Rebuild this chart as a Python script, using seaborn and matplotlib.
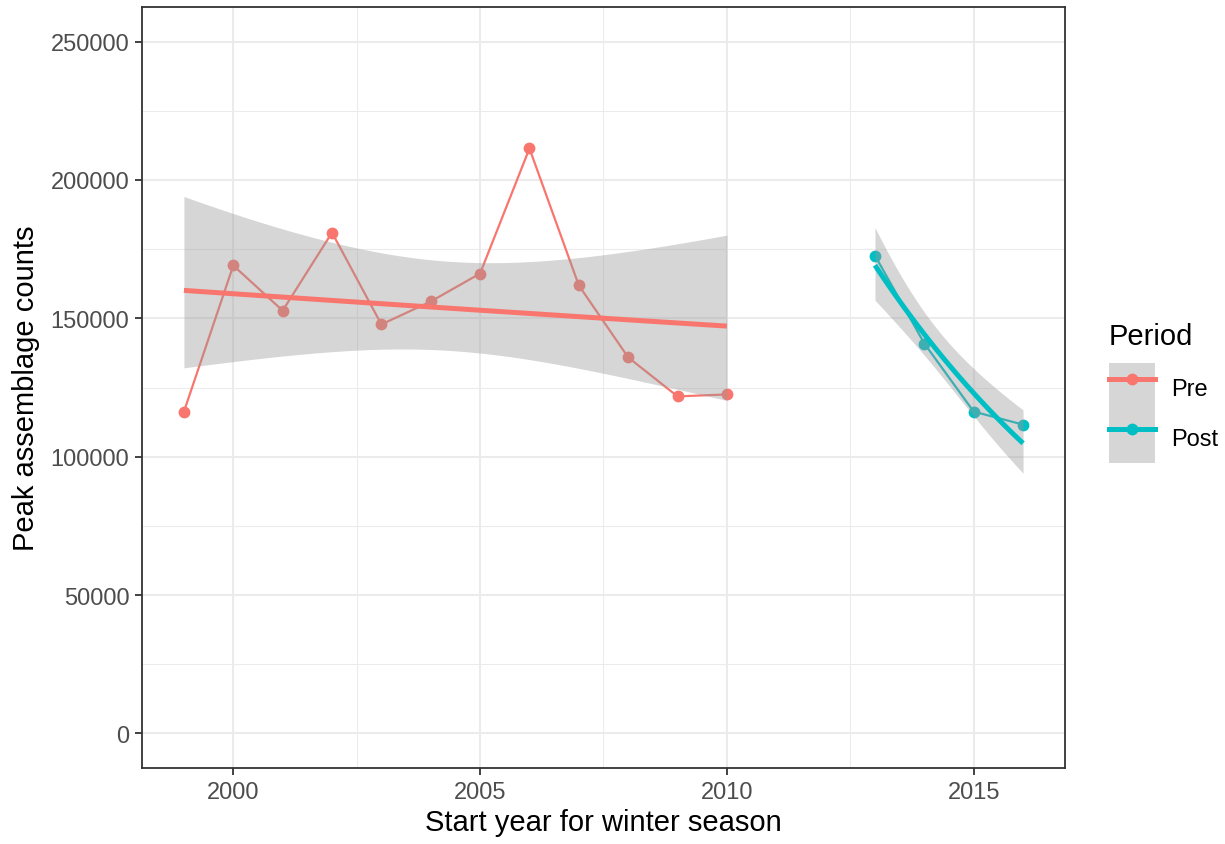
import numpy as np
import pandas as pd
import seaborn as sns
import matplotlib.pyplot as plt
from matplotlib.lines import Line2D
from matplotlib.patches import Patch
from matplotlib.ticker import MultipleLocator

# data
years_pre = [1999, 2000, 2001, 2002, 2003, 2004, 2005, 2006, 2007, 2008, 2009, 2010]
counts_pre = [116300, 169100, 152800, 181000, 147800, 156100, 166200, 211400, 161900, 135900, 121800, 122500]
years_post = [2013, 2014, 2015, 2016]
counts_post = [172700, 140900, 116300, 111600]
periods = ["Pre", "Post"]
colors = {"Pre": "#F8766D", "Post": "#00BFC4"}

df = pd.DataFrame({
    "year": years_pre + years_post,
    "count": counts_pre + counts_post,
    "Period": ["Pre"] * len(years_pre) + ["Post"] * len(years_post),
})


def glm_log_fit(x, y, grid):
    # gaussian glm with log link, fitted by Gauss-Newton, normal-quantile CI
    x = np.asarray(x, float)
    y = np.asarray(y, float)
    X = np.column_stack([np.ones_like(x), x - x.mean()])
    b = np.linalg.lstsq(X, np.log(y), rcond=None)[0]
    for _ in range(50):
        mu = np.exp(X @ b)
        J = X * mu[:, None]
        step = np.linalg.lstsq(J, y - mu, rcond=None)[0]
        b = b + step
        if np.abs(step).max() < 1e-10:
            break
    mu = np.exp(X @ b)
    J = X * mu[:, None]
    sigma2 = ((y - mu) ** 2).sum() / (len(y) - 2)
    cov = sigma2 * np.linalg.inv(J.T @ J)
    G = np.column_stack([np.ones_like(grid), grid - x.mean()])
    eta = G @ b
    se = np.sqrt(np.einsum("ij,jk,ik->i", G, cov, G))
    return np.exp(eta), np.exp(eta - 1.96 * se), np.exp(eta + 1.96 * se)


plt.rcParams["font.family"] = ["Liberation Sans", "DejaVu Sans"]

fig = plt.figure(figsize=(12.25, 8.45), dpi=100)
ax = fig.add_axes([0.1159, 0.0899, 0.7535, 0.9006])
ax.set_facecolor("white")

sns.lineplot(data=df, x="year", y="count", hue="Period", hue_order=periods,
             palette=colors, marker="o", markersize=8.5, markeredgewidth=0,
             linewidth=1.6, legend=False, ax=ax, zorder=3)

for p in periods:
    sub = df[df["Period"] == p]
    grid = np.linspace(sub["year"].min(), sub["year"].max(), 80)
    fit, lo, hi = glm_log_fit(sub["year"], sub["count"], grid)
    ax.fill_between(grid, lo, hi, color="#999999", alpha=0.4, linewidth=0, zorder=4)
    ax.plot(grid, fit, color=colors[p], linewidth=3.6, zorder=5, solid_capstyle="butt")

ax.set_xlim(1998.15, 2016.85)
ax.set_ylim(-12500, 262500)
ax.set_xticks([2000, 2005, 2010, 2015])
ax.xaxis.set_minor_locator(MultipleLocator(2.5))
ax.set_yticks(np.arange(0, 250001, 50000))
ax.yaxis.set_minor_locator(MultipleLocator(25000))
ax.grid(which="major", color="#EBEBEB", linewidth=1.5, zorder=0)
ax.grid(which="minor", color="#EBEBEB", linewidth=0.75, zorder=0)
ax.set_axisbelow(True)
for s in ax.spines.values():
    s.set_color("#333333")
    s.set_linewidth(1.3)
ax.tick_params(which="major", length=5, width=1.3, color="#333333",
               labelsize=17, labelcolor="#4D4D4D", pad=4)
ax.tick_params(which="minor", length=0)
ax.set_xlabel("Start year for winter season", fontsize=21, color="black", labelpad=4)
ax.set_ylabel("Peak assemblage counts", fontsize=21, color="black", labelpad=8)

handles = [(Patch(facecolor="#D6D6D6", edgecolor="none"),
            Line2D([], [], color=colors[p], linewidth=3.6, marker="o",
                   markersize=8.5, markeredgewidth=0)) for p in periods]
leg = fig.legend(handles, periods, title="Period", loc="center left",
                 bbox_to_anchor=(0.905, 0.534), frameon=False, fontsize=17,
                 title_fontsize=21, handlelength=1.96, handleheight=2.9,
                 labelspacing=0.0, handletextpad=0.67, borderpad=0,
                 borderaxespad=0)
leg._legend_box.align = "left"
leg._legend_box.sep = 9

fig.savefig("out.png", dpi=100)
